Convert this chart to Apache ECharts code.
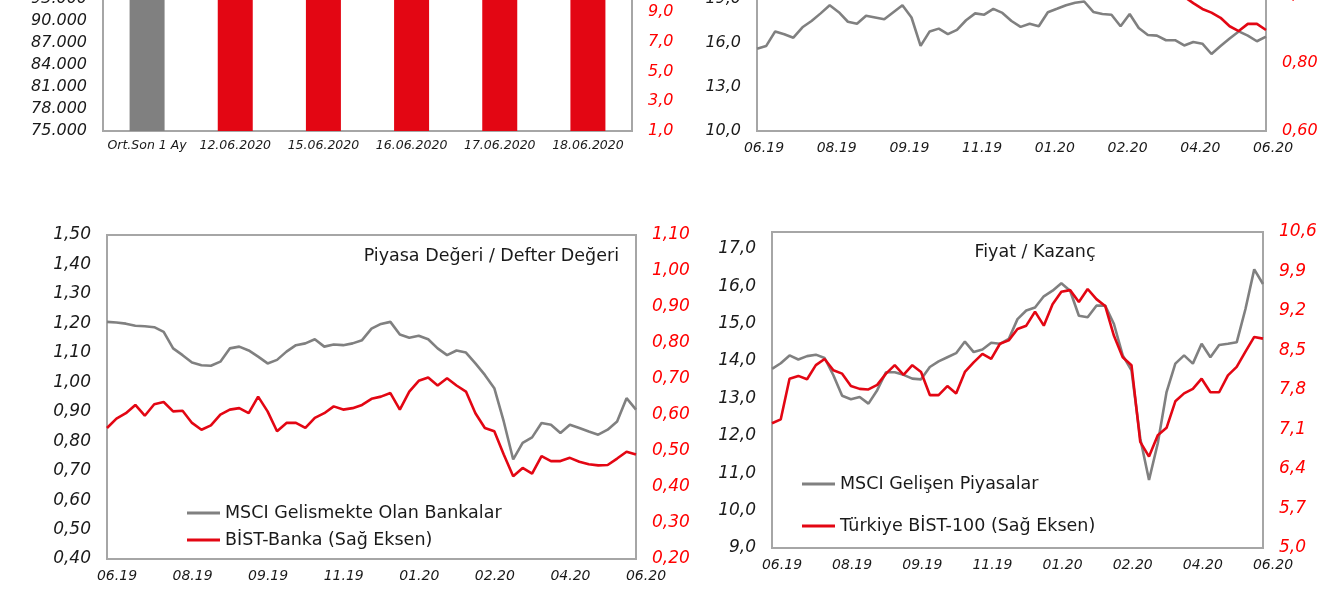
<!DOCTYPE html>
<html><head><meta charset="utf-8">
<script src="https://cdn.jsdelivr.net/npm/echarts@6.0.0/dist/echarts.min.js"></script>
<style>html,body{margin:0;padding:0;background:#fff;overflow:hidden;width:1329px;height:600px;position:relative}#c{position:absolute;left:0;top:-50px;width:1329px;height:650px}</style>
</head><body><div id="c"></div><script>
// ---- data ----
const barCategories = ['Ort.Son 1 Ay', '12.06.2020', '15.06.2020', '16.06.2020', '17.06.2020', '18.06.2020'];
const barAvgValues = [97800, null, null, null, null, null];
const barDailyValues = [null, 11.6, 12.3, 11.9, 12.5, 11.4];
const dateTickLabels = ['06.19', '08.19', '09.19', '11.19', '01.20', '02.20', '04.20', '06.20'];

// top-right panel (upper part is outside the picture)
const topGray = [15.60,15.79,16.79,16.60,16.36,17.07,17.50,18.02,18.57,18.10,17.45,17.31,17.86,17.74,17.62,18.10,18.57,17.74,15.80,16.79,16.98,16.60,16.90,17.55,18.02,17.93,18.33,18.05,17.50,17.10,17.31,17.14,18.10,18.33,18.57,18.74,18.83,18.12,17.98,17.93,17.14,17.98,17.02,16.55,16.50,16.19,16.19,15.83,16.07,15.95,15.25,15.79,16.31,16.79,16.50,16.12,16.43];
const topRed = [null,null,null,null,null,null,null,null,null,null,null,null,null,null,null,null,null,null,null,null,null,null,null,null,null,null,null,null,null,null,null,null,null,null,null,null,null,null,null,null,null,null,null,null,1.04,1.03,1.01,0.995,0.976,0.959,0.948,0.933,0.908,0.894,0.915,0.915,0.897];

// Piyasa Değeri / Defter Değeri
const pbGray = [1.205,1.203,1.199,1.192,1.190,1.187,1.171,1.115,1.092,1.067,1.058,1.056,1.070,1.115,1.121,1.108,1.087,1.064,1.076,1.104,1.126,1.132,1.146,1.121,1.128,1.126,1.132,1.143,1.182,1.198,1.205,1.162,1.151,1.158,1.146,1.115,1.092,1.108,1.101,1.064,1.025,0.980,0.867,0.738,0.794,0.813,0.862,0.856,0.828,0.856,0.845,0.833,0.822,0.839,0.867,0.946,0.907];
const pbRed = [0.564,0.590,0.605,0.628,0.598,0.630,0.636,0.610,0.612,0.578,0.559,0.571,0.601,0.615,0.619,0.605,0.651,0.610,0.555,0.578,0.578,0.564,0.592,0.605,0.624,0.615,0.619,0.628,0.645,0.651,0.661,0.615,0.665,0.695,0.704,0.682,0.702,0.682,0.665,0.605,0.564,0.555,0.490,0.430,0.453,0.437,0.486,0.472,0.472,0.481,0.470,0.463,0.460,0.461,0.479,0.498,0.490];

// Fiyat / Kazanç
const peGray = [13.79,13.94,14.15,14.04,14.13,14.17,14.08,13.62,13.07,12.98,13.04,12.86,13.22,13.70,13.70,13.63,13.53,13.51,13.84,13.99,14.10,14.21,14.52,14.24,14.31,14.49,14.46,14.59,15.12,15.35,15.43,15.73,15.88,16.08,15.88,15.21,15.17,15.48,15.48,14.99,14.15,13.75,11.93,10.82,11.80,13.17,13.93,14.15,13.93,14.46,14.10,14.43,14.46,14.50,15.39,16.45,16.06];
const peRed = [7.21,7.28,8.00,8.05,7.99,8.24,8.35,8.15,8.09,7.87,7.82,7.81,7.89,8.09,8.24,8.07,8.24,8.12,7.71,7.71,7.87,7.74,8.12,8.29,8.44,8.35,8.62,8.68,8.88,8.94,9.19,8.94,9.32,9.54,9.57,9.36,9.59,9.41,9.29,8.76,8.38,8.24,6.88,6.62,7.00,7.13,7.60,7.74,7.82,8.00,7.76,7.76,8.06,8.21,8.48,8.74,8.71];

// ---- styling ----
const FONT = 'DejaVu Sans';
const GRAY = '#808080';
const RED = '#E30613';
const AXRED = '#FF0000';
const TXT = '#1a1a1a';
const OFF = 50; // the chart canvas starts 50px above the visible picture
const lastIdx = pbGray.length - 1;
const labelStep = lastIdx / (dateTickLabels.length - 1);

const thousands = v => Math.round(v).toString().replace(/\B(?=(\d{3})+(?!\d))/g, '.');
const dec = d => v => v.toFixed(d).replace('.', ',');
const pairs = arr => arr.map((v, i) => [i, v == null ? '-' : v]);

function yAx(grid, pos, min, max, interval, fmt, color, size, hideMax) {
  const lab = {formatter: fmt, color: color, fontSize: size, fontStyle: 'italic', fontFamily: FONT, margin: 16};
  if (hideMax) lab.showMaxLabel = false;
  return {type: 'value', gridIndex: grid, position: pos, min: min, max: max, interval: interval,
    axisLine: {show: false}, axisTick: {show: false}, splitLine: {show: false}, axisLabel: lab};
}
function xAx(grid, shift) {
  return {type: 'value', gridIndex: grid, min: 0, max: lastIdx, interval: labelStep,
    axisLine: {show: false}, axisTick: {show: false}, splitLine: {show: false},
    axisLabel: {formatter: v => dateTickLabels[Math.round(v / labelStep)] || '', color: TXT, fontSize: 14,
      fontStyle: 'italic', fontFamily: FONT, margin: 10, padding: [0, 0, 0, shift * 2],
      showMinLabel: true, showMaxLabel: true}};
}
function lineS(name, xi, yi, data, color) {
  return {type: 'line', name: name, xAxisIndex: xi, yAxisIndex: yi, data: pairs(data), symbol: 'none',
    showSymbol: false, lineStyle: {color: color, width: 2.6}, itemStyle: {color: color}, z: color === RED ? 3 : 2};
}
const gridStyle = {show: true, borderColor: '#A6A6A6', borderWidth: 2, backgroundColor: 'transparent', containLabel: false};
const legendText = {fontFamily: FONT, fontSize: 17.5, color: TXT, lineHeight: 20};

const option = {
  animation: false,
  backgroundColor: '#fff',
  grid: [
    Object.assign({left: 103, top: OFF - 45, width: 529, height: 176}, gridStyle),
    Object.assign({left: 757, top: OFF - 45, width: 509, height: 176}, gridStyle),
    Object.assign({left: 107, top: OFF + 235, width: 529, height: 324}, gridStyle),
    Object.assign({left: 772, top: OFF + 232, width: 491, height: 316}, gridStyle)
  ],
  xAxis: [
    {type: 'category', gridIndex: 0, data: barCategories, axisLine: {show: false}, axisTick: {show: false},
     axisLabel: {interval: 0, color: TXT, fontSize: 12.5, fontStyle: 'italic', fontFamily: FONT, margin: 8}},
    xAx(1, 7), xAx(2, 10), xAx(3, 10)
  ],
  yAxis: [
    yAx(0, 'left', 75000, 99000, 3000, thousands, TXT, 16, true),
    yAx(0, 'right', 1, 12.83, 2, dec(1), AXRED, 16, true),
    yAx(1, 'left', 10, 22, 3, dec(1), TXT, 16, true),
    yAx(1, 'right', 0.6, 1.1176, 0.2, dec(2), AXRED, 16, true),
    yAx(2, 'left', 0.4, 1.5, 0.1, dec(2), TXT, 17, false),
    yAx(2, 'right', 0.2, 1.1, 0.1, dec(2), AXRED, 17, false),
    yAx(3, 'left', 9, 17.45, 1, dec(1), TXT, 17, true),
    yAx(3, 'right', 5, 10.6, 0.7, dec(1), AXRED, 17, false)
  ],
  legend: [
    {data: ['MSCI Gelismekte Olan Bankalar', 'BİST-Banka (Sağ Eksen)'], orient: 'vertical', left: 187, top: OFF + 503,
     icon: 'rect', itemWidth: 33, itemHeight: 3, itemGap: 7, padding: 0, selectedMode: false, textStyle: legendText},
    {data: ['MSCI Gelişen Piyasalar', 'Türkiye BİST-100 (Sağ Eksen)'], orient: 'vertical', left: 802, top: OFF + 474,
     icon: 'rect', itemWidth: 33, itemHeight: 3, itemGap: 22, padding: 0, selectedMode: false, textStyle: legendText}
  ],
  graphic: [
    {type: 'text', x: 619, y: OFF + 256, style: {text: 'Piyasa Değeri / Defter Değeri', align: 'right', textAlign: 'right',
      verticalAlign: 'middle', textVerticalAlign: 'middle', font: '17.5px "DejaVu Sans"', fill: TXT}},
    {type: 'text', x: 1035, y: OFF + 252, style: {text: 'Fiyat / Kazanç', align: 'center', textAlign: 'center',
      verticalAlign: 'middle', textVerticalAlign: 'middle', font: '17.5px "DejaVu Sans"', fill: TXT}}
  ],
  series: [
    {type: 'bar', name: 'Ort.Son 1 Ay', xAxisIndex: 0, yAxisIndex: 0, data: barAvgValues, barWidth: 35,
     barGap: '-100%', itemStyle: {color: GRAY}},
    {type: 'bar', name: 'Günlük', xAxisIndex: 0, yAxisIndex: 1, data: barDailyValues, barWidth: 35,
     barGap: '-100%', itemStyle: {color: RED}},
    lineS('MSCI (üst panel)', 1, 2, topGray, GRAY),
    lineS('BİST (üst panel)', 1, 3, topRed, RED),
    lineS('MSCI Gelismekte Olan Bankalar', 2, 4, pbGray, GRAY),
    lineS('BİST-Banka (Sağ Eksen)', 2, 5, pbRed, RED),
    lineS('MSCI Gelişen Piyasalar', 3, 6, peGray, GRAY),
    lineS('Türkiye BİST-100 (Sağ Eksen)', 3, 7, peRed, RED)
  ]
};
const chart = echarts.init(document.getElementById('c'), null, {renderer: 'canvas'});
chart.setOption(option);
</script></body></html>
